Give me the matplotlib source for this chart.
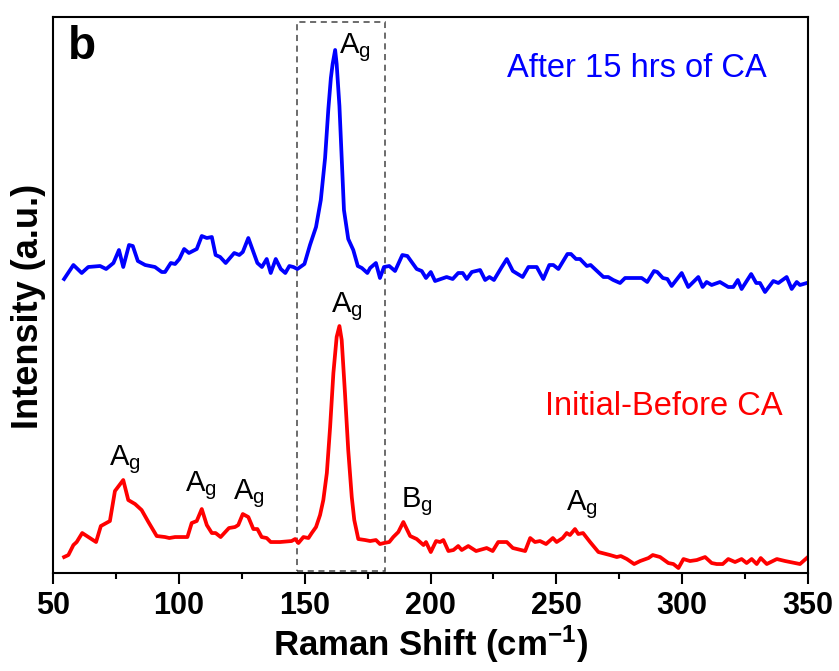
import matplotlib
matplotlib.use("Agg")
import matplotlib.pyplot as plt
from matplotlib.patches import Rectangle
from matplotlib.ticker import MultipleLocator

plt.rcParams['font.family'] = ['Liberation Sans', 'DejaVu Sans']
plt.rcParams['mathtext.fontset'] = 'custom'
plt.rcParams['mathtext.rm'] = 'Liberation Sans'
plt.rcParams['mathtext.it'] = 'Liberation Sans:italic'
plt.rcParams['mathtext.bf'] = 'Liberation Sans:bold'
plt.rcParams['mathtext.default'] = 'regular'

# After 15 hrs of CA (blue), Raman shift in cm-1 and intensity in a.u.
shift_after = [54.4, 58.1, 61.4, 64.0, 68.7, 71.1, 74.0, 76.2, 77.9, 80.2, 81.7, 83.7,
               86.6, 90.5, 93.2, 94.5, 96.8, 98.5, 100.2, 102.1, 104.0, 107.1, 109.1,
               111.1, 113.1, 114.6, 116.4, 118.6, 122.0, 124.0, 125.4, 127.6, 129.6,
               131.2, 133.0, 134.9, 136.5, 138.5, 140.5, 142.3, 143.9, 145.5, 147.1,
               149.9, 152.1, 154.5, 156.4, 158.1, 159.4, 160.4, 161.1, 162.1, 162.7,
               163.8, 164.7, 165.6, 167.3, 169.3, 171.1, 172.7, 174.9, 176.0, 178.3,
               179.9, 181.5, 183.6, 185.9, 188.8, 190.8, 194.5, 196.5, 198.2, 200.1,
               201.8, 206.4, 208.8, 211.0, 212.8, 214.4, 216.4, 219.7, 221.7, 223.4,
               225.2, 228.3, 230.3, 232.7, 236.6, 238.9, 242.2, 244.8, 247.2, 248.8,
               250.8, 254.4, 255.8, 257.8, 259.4, 262.1, 263.6, 268.7, 270.6, 272.6,
               275.3, 277.3, 283.9, 286.1, 288.8, 290.1, 292.3, 294.1, 295.8, 299.8,
               302.4, 306.4, 308.1, 309.7, 311.7, 315.0, 318.3, 320.3, 322.1, 323.6,
               327.4, 329.4, 330.9, 332.9, 336.2, 338.2, 341.5, 343.5, 345.5, 346.8,
               349.5]
int_after = [294, 308, 300, 306, 307, 304, 310, 323, 306, 328, 327, 312,
             308, 306, 301, 301, 310, 309, 314, 324, 320, 324, 337,
             335, 336, 318, 316, 310, 320, 318, 321, 335, 321,
             310, 306, 314, 300, 314, 304, 300, 307, 306, 304,
             309, 328, 346, 373, 415, 464, 495, 509, 523, 509,
             467, 415, 363, 334, 323, 307, 305, 300, 305, 310,
             295, 306, 307, 302, 318, 317, 304, 302, 295, 301,
             292, 296, 294, 300, 300, 294, 301, 303, 293, 296,
             293, 306, 314, 302, 296, 306, 306, 294, 308, 308,
             304, 319, 319, 314, 314, 307, 308, 296, 296, 293,
             290, 295, 295, 291, 302, 301, 295, 294, 287, 300,
             286, 296, 286, 291, 288, 291, 286, 286, 293, 284,
             299, 290, 290, 281, 292, 290, 296, 284, 291, 288,
             290]

# Initial - before CA (red)
shift_before = [54.4, 56.1, 58.1, 59.4, 61.6, 67.1, 69.0, 72.6, 74.6, 77.9, 79.9, 82.6,
                85.2, 87.9, 91.2, 94.5, 96.2, 98.5, 103.4, 105.1, 107.1, 109.1, 111.1,
                113.1, 114.6, 116.6, 119.9, 122.3, 123.6, 125.4, 127.6, 129.6, 131.2,
                132.9, 134.9, 136.5, 140.2, 144.8, 146.2, 147.5, 149.5, 151.5, 152.8,
                154.5, 156.1, 157.4, 158.8, 160.1, 161.4, 162.7, 163.8, 164.7, 166.0,
                167.3, 168.7, 169.7, 171.3, 174.0, 176.0, 178.3, 179.9, 181.5, 183.6,
                185.2, 187.2, 189.2, 191.9, 194.5, 197.2, 198.2, 200.1, 202.2, 203.8,
                205.1, 207.1, 209.1, 211.0, 212.4, 215.0, 218.1, 222.3, 224.7, 226.9,
                230.3, 232.7, 237.6, 239.6, 241.5, 243.5, 245.9, 248.6, 250.1, 252.5,
                254.1, 255.4, 257.4, 258.7, 260.6, 263.4, 266.7, 271.3, 274.0, 275.6,
                278.0, 280.9, 283.3, 286.6, 288.3, 291.2, 294.5, 296.5, 298.5, 300.5,
                303.1, 305.8, 309.1, 311.7, 313.7, 316.1, 318.3, 321.0, 323.6, 325.6,
                327.6, 329.6, 331.2, 333.6, 337.6, 340.9, 346.8, 349.5]
int_before = [16, 18, 28, 31, 40, 31, 47, 52, 82, 93, 73, 69,
              63, 51, 37, 36, 35, 36, 36, 50, 52, 64, 48,
              40, 40, 36, 45, 46, 48, 59, 56, 44, 44,
              36, 35, 31, 31, 32, 34, 30, 36, 35, 40,
              46, 58, 73, 100, 146, 200, 236, 247, 233, 180,
              123, 76, 53, 34, 33, 32, 33, 29, 30, 31,
              36, 41, 51, 37, 34, 28, 31, 21, 32, 31,
              33, 22, 23, 27, 23, 27, 22, 25, 22, 31,
              31, 25, 22, 35, 31, 32, 29, 35, 31, 35,
              40, 38, 44, 39, 40, 31, 21, 18, 16, 17,
              14, 9, 12, 15, 18, 16, 10, 9, 5, 14,
              12, 13, 16, 10, 9, 9, 14, 11, 14, 10,
              14, 9, 15, 9, 14, 12, 9, 15]

# peak labels: (text, x, y) with x at left edge of label and y at baseline
peak_labels = [(r'$\mathrm{A_g}$', 163.6, 520), (r'$\mathrm{A_g}$', 160.5, 261),
               (r'$\mathrm{A_g}$', 72.4, 108), (r'$\mathrm{A_g}$', 102.3, 82),
               (r'$\mathrm{A_g}$', 121.4, 74), (r'$\mathrm{B_g}$', 188.4, 66),
               (r'$\mathrm{A_g}$', 253.9, 63)]

fig = plt.figure(figsize=(8.39, 6.71), dpi=100)
ax = fig.add_axes([0.0632, 0.146, 0.8999, 0.8287])

ax.plot(shift_after, int_after, color='#0000ff', lw=2.7)
ax.plot(shift_before, int_before, color='#ff0000', lw=2.7)

ax.add_patch(Rectangle((147.1, 2), 182.0 - 147.1, 549, fill=False,
                       ls=(0, (4, 3)), lw=1.1, ec='#444444'))

for txt, x, y in peak_labels:
    ax.text(x, y, txt, fontsize=21, ha='left', va='baseline')

ax.text(282, 496, 'After 15 hrs of CA', color='#0000ff', fontsize=23.5,
        ha='center', va='baseline')
ax.text(292.8, 158, 'Initial-Before CA', color='#ff0000', fontsize=23.5,
        ha='center', va='baseline')
ax.text(56, 514, 'b', fontsize=33, fontweight='bold', ha='left', va='baseline')

ax.set_xlim(50, 350)
ax.set_ylim(0, 556)
ax.xaxis.set_major_locator(MultipleLocator(50))
ax.xaxis.set_minor_locator(MultipleLocator(25))
ax.set_yticks([])
ax.tick_params(axis='x', which='major', length=8, width=1.5, pad=5,
               labelsize=22)
ax.tick_params(axis='x', which='minor', length=4.5, width=1.5)
for lab in ax.get_xticklabels():
    lab.set_fontweight('bold')
for s in ax.spines.values():
    s.set_linewidth(1.5)

ax.set_xlabel(r'Raman Shift (cm$^{\mathbf{-1}}$)', fontsize=25,
              fontweight='bold', labelpad=2)
ax.set_ylabel('Intensity (a.u.)', fontsize=26, fontweight='bold')
ax.yaxis.set_label_coords(-0.009, 0.48)

fig.savefig('out.png', dpi=100)
